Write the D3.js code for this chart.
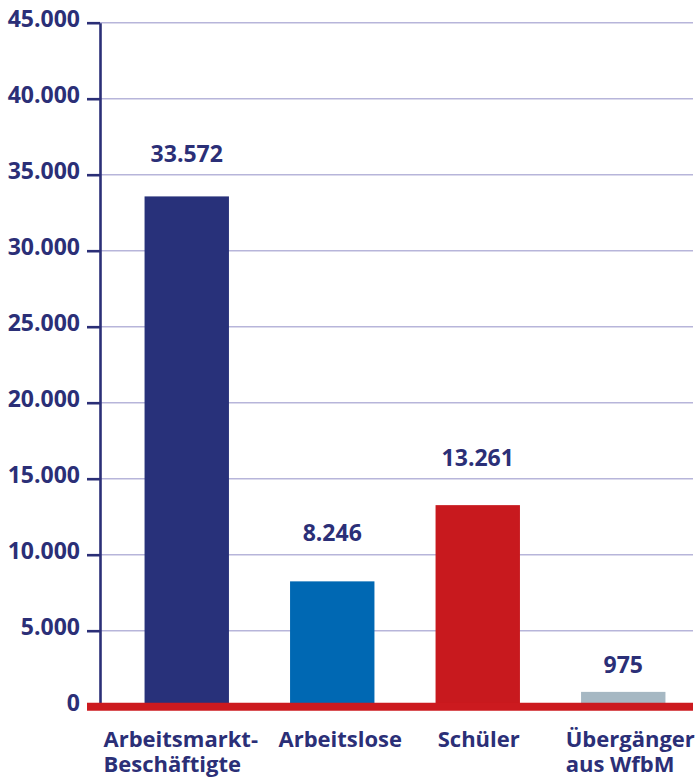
<!DOCTYPE html>
<html>
<head>
<meta charset="utf-8">
<script src="https://cdn.jsdelivr.net/npm/d3@7"></script>
<style>
  body { margin: 0; background: #fff; }
  text { font-family: "Open Sans", sans-serif; font-weight: bold; fill: #2b2f77; }
</style>
</head>
<body>
<div id="chart"></div>
<script>
// data
var categories = [["Arbeitsmarkt-", "Beschäftigte"], ["Arbeitslose"], ["Schüler"], ["Übergänger", "aus WfbM"]];
var values = [33572, 8246, 13261, 975];
var valueLabels = ["33.572", "8.246", "13.261", "975"];
var yTicks = [0, 5000, 10000, 15000, 20000, 25000, 30000, 35000, 40000, 45000];
var yTickLabels = ["0", "5.000", "10.000", "15.000", "20.000", "25.000", "30.000", "35.000", "40.000", "45.000"];

var barColors = ["#28317a", "#0068b3", "#c8191e", "#a6b8c3"];
var labelLift = [34, 40, 39, 19]; // gap between bar top and its value label
var catShift = [-6, 8, 1, 7];     // nudge of each category label block

var W = 699, H = 783;
var svg = d3.select("#chart").append("svg")
    .attr("width", W)
    .attr("height", H);

var y = d3.scaleLinear().domain([0, 45000]).range([706.7, 22.7]);
var x = d3.scaleBand().domain(d3.range(values.length))
    .range([114, 696])
    .paddingInner(0.42)
    .paddingOuter(0.21);

// grid lines
svg.append("g")
  .selectAll("line")
  .data(yTicks)
  .enter().append("line")
    .attr("x1", 100).attr("x2", 693)
    .attr("y1", d => y(d)).attr("y2", d => y(d))
    .attr("stroke", "#b7b5da")
    .attr("stroke-width", 1.6);

// bars
svg.append("g")
  .selectAll("rect")
  .data(values)
  .enter().append("rect")
    .attr("x", (d, i) => x(i))
    .attr("width", x.bandwidth())
    .attr("y", d => y(d))
    .attr("height", d => y(0) - y(d))
    .attr("fill", (d, i) => barColors[i]);

// y axis
var yAxis = svg.append("g")
    .attr("transform", "translate(100,0)")
    .call(d3.axisLeft(y)
        .tickValues(yTicks)
        .tickFormat((d, i) => yTickLabels[i])
        .tickSize(13)
        .tickSizeOuter(0)
        .tickPadding(7));
yAxis.select(".domain").attr("stroke", "#2b2f77").attr("stroke-width", 2.6);
yAxis.selectAll(".tick line").attr("stroke", "#2b2f77").attr("stroke-width", 2.6);
yAxis.selectAll(".tick text")
    .attr("y", -4)
    .style("font-size", "23px")
    .style("font-family", "'Open Sans', sans-serif")
    .style("font-weight", "bold")
    .attr("fill", "#2b2f77");

// red baseline
svg.append("line")
    .attr("x1", 87).attr("x2", 693)
    .attr("y1", y(0)).attr("y2", y(0))
    .attr("stroke", "#cc1a1f")
    .attr("stroke-width", 8);

// value labels
svg.append("g")
  .selectAll("text")
  .data(values)
  .enter().append("text")
    .attr("x", (d, i) => x(i) + x.bandwidth() / 2)
    .attr("y", (d, i) => y(d) - labelLift[i])
    .attr("text-anchor", "middle")
    .style("font-size", "23px")
    .text((d, i) => valueLabels[i]);

// category labels, lines left-aligned, block centred under the bar
categories.forEach(function(lines, i) {
  var t = svg.append("text")
      .style("font-size", "22px");
  lines.forEach(function(line, j) {
    t.append("tspan")
      .attr("x", 0)
      .attr("y", 747 + j * 25)
      .text(line);
  });
  var w = t.node().getBBox().width;
  var cx = x(i) + x.bandwidth() / 2;
  t.selectAll("tspan").attr("x", cx - w / 2 + catShift[i]);
});
</script>
</body>
</html>
